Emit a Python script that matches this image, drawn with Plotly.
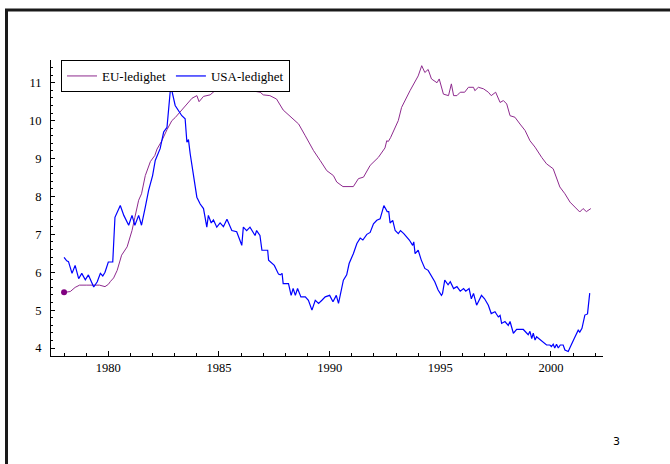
import plotly.graph_objects as go

# ---- data (decimal years, percent) ----
eu_years = [1978.0, 1978.28, 1978.5, 1978.7, 1979.0, 1979.3, 1979.6, 1979.85, 1980.0, 1980.1,
            1980.24, 1980.4, 1980.6, 1980.85, 1981.07, 1981.2, 1981.37, 1981.5, 1981.67, 1981.9,
            1982.1, 1982.2, 1982.4, 1982.65, 1982.87, 1983.02, 1983.25, 1983.4, 1983.55, 1983.78,
            1984.0, 1984.1, 1984.3, 1984.6, 1984.9, 1985.05, 1985.15, 1985.25, 1985.35, 1985.45,
            1986.45, 1986.56, 1986.86, 1987.0, 1987.3, 1987.6, 1987.9, 1988.15, 1988.6, 1988.9,
            1989.27, 1989.57, 1989.87, 1990.17, 1990.32, 1990.6, 1991.07, 1991.3, 1991.53, 1991.83,
            1992.2, 1992.5, 1992.58, 1992.65, 1992.75, 1993.1, 1993.25, 1993.63, 1993.86, 1994.0,
            1994.16, 1994.3, 1994.45, 1994.6, 1994.85, 1994.95, 1995.14, 1995.37, 1995.5, 1995.6,
            1995.75, 1995.9, 1996.1, 1996.27, 1996.5, 1996.56, 1996.72, 1996.95, 1997.17, 1997.3,
            1997.5, 1997.7, 1997.85, 1998.0, 1998.15, 1998.37, 1998.6, 1998.83, 1999.05, 1999.28,
            1999.58, 1999.8, 2000.1, 2000.26, 2000.4, 2000.63, 2000.86, 2001.08, 2001.3, 2001.45,
            2001.6, 2001.8]
eu_values = [5.47, 5.49, 5.6, 5.66, 5.66, 5.66, 5.66, 5.62, 5.68, 5.76,
             5.85, 6.05, 6.45, 6.67, 7.1, 7.45, 7.9, 8.07, 8.55, 8.92,
             9.08, 9.25, 9.45, 9.76, 10.0, 10.08, 10.24, 10.35, 10.46, 10.59,
             10.66, 10.5, 10.64, 10.68, 10.83, 10.9, 10.8, 10.88, 10.8, 10.88,
             10.88, 10.78, 10.75, 10.68, 10.66, 10.57, 10.28, 10.15, 9.91, 9.6,
             9.21, 8.95, 8.68, 8.55, 8.38, 8.26, 8.26, 8.47, 8.51, 8.82,
             9.03, 9.28, 9.47, 9.45, 9.55, 10.0, 10.35, 10.79, 11.05, 11.18,
             11.45, 11.27, 11.35, 11.1, 11.0, 11.1, 10.7, 10.66, 10.97, 10.66,
             10.66, 10.75, 10.75, 10.88, 10.88, 10.79, 10.88, 10.84, 10.75, 10.66,
             10.75, 10.48, 10.53, 10.44, 10.13, 10.09, 9.91, 9.74, 9.47, 9.3,
             9.03, 8.86, 8.73, 8.47, 8.25, 8.07, 7.85, 7.72, 7.59, 7.68,
             7.6, 7.68]

usa_years = [1978.0, 1978.12, 1978.2, 1978.36, 1978.5, 1978.66, 1978.8, 1978.96, 1979.1, 1979.2,
             1979.34, 1979.5, 1979.64, 1979.75, 1979.85, 1980.0, 1980.2, 1980.3, 1980.54, 1980.7,
             1980.92, 1981.07, 1981.2, 1981.37, 1981.5, 1981.67, 1981.82, 1982.0, 1982.12, 1982.34,
             1982.5, 1982.65, 1982.8, 1982.87, 1983.02, 1983.32, 1983.47, 1983.55, 1983.62, 1983.7,
             1983.85, 1984.0, 1984.15, 1984.3, 1984.45, 1984.52, 1984.65, 1984.75, 1984.9, 1985.05,
             1985.2, 1985.36, 1985.58, 1985.8, 1986.03, 1986.1, 1986.25, 1986.4, 1986.63, 1986.7,
             1986.85, 1986.94, 1987.2, 1987.24, 1987.5, 1987.69, 1987.77, 1987.85, 1987.9, 1988.14,
             1988.26, 1988.35, 1988.45, 1988.55, 1988.7, 1988.9, 1989.04, 1989.2, 1989.35, 1989.5,
             1989.65, 1989.8, 1990.0, 1990.15, 1990.3, 1990.4, 1990.62, 1990.77, 1990.88, 1991.07,
             1991.23, 1991.38, 1991.5, 1991.68, 1991.83, 1991.98, 1992.13, 1992.28, 1992.45, 1992.6,
             1992.67, 1992.73, 1992.85, 1992.96, 1993.1, 1993.2, 1993.35, 1993.6, 1993.75, 1993.8,
             1993.86, 1994.0, 1994.14, 1994.3, 1994.45, 1994.6, 1994.75, 1994.9, 1995.05, 1995.1,
             1995.2, 1995.35, 1995.45, 1995.6, 1995.75, 1995.9, 1996.05, 1996.15, 1996.3, 1996.4,
             1996.5, 1996.64, 1996.86, 1997.0, 1997.17, 1997.3, 1997.47, 1997.62, 1997.7, 1997.77,
             1997.92, 1998.07, 1998.15, 1998.3, 1998.45, 1998.75, 1998.9, 1998.97, 1999.05, 1999.13,
             1999.2, 1999.28, 1999.35, 1999.45, 1999.6, 1999.8, 1999.95, 2000.02, 2000.1, 2000.17,
             2000.25, 2000.33, 2000.42, 2000.55, 2000.63, 2000.78, 2000.85, 2000.92, 2001.05, 2001.23,
             2001.3, 2001.4, 2001.53, 2001.65, 2001.75]
usa_values = [6.39, 6.3, 6.28, 5.97, 6.18, 5.83, 5.97, 5.8, 5.93, 5.8,
              5.61, 5.75, 5.97, 5.9, 6.0, 6.27, 6.27, 7.45, 7.76, 7.5,
              7.24, 7.5, 7.24, 7.5, 7.24, 7.72, 8.16, 8.55, 8.95, 9.26,
              9.7, 9.82, 10.79, 10.79, 10.4, 10.13, 10.05, 9.43, 9.5, 9.12,
              8.51, 7.98, 7.8, 7.68, 7.19, 7.5, 7.3, 7.38, 7.19, 7.3,
              7.2, 7.4, 7.1, 7.07, 6.71, 7.19, 7.1, 7.19, 6.97, 7.1,
              6.97, 6.58, 6.58, 6.32, 6.18, 5.95, 5.93, 5.97, 5.7, 5.7,
              5.39, 5.57, 5.39, 5.57, 5.35, 5.35, 5.26, 5.0, 5.26, 5.18,
              5.26, 5.35, 5.39, 5.22, 5.39, 5.18, 5.79, 5.93, 6.23, 6.49,
              6.76, 6.9, 6.85, 7.0, 7.05, 7.28, 7.37, 7.41, 7.76, 7.6,
              7.6, 7.3, 7.37, 7.1, 7.02, 7.1, 7.02, 6.85, 6.71, 6.8,
              6.49, 6.58, 6.32, 6.1, 6.05, 5.88, 5.75, 5.53, 5.39, 5.44,
              5.79, 5.67, 5.75, 5.57, 5.62, 5.5, 5.57, 5.5, 5.57, 5.3,
              5.44, 5.13, 5.39, 5.3, 5.13, 4.91, 4.96, 4.82, 4.86, 4.65,
              4.7, 4.6, 4.7, 4.39, 4.49, 4.49, 4.39, 4.35, 4.44, 4.25,
              4.39, 4.21, 4.3, 4.25, 4.17, 4.08, 4.08, 4.04, 4.1, 4.0,
              4.1, 4.0, 4.08, 4.08, 3.95, 3.91, 4.0, 4.1, 4.25, 4.47,
              4.42, 4.52, 4.87, 4.9, 5.45]

series_names = ["EU-ledighet", "USA-ledighet"]
page_number = "3"

EU_COLOR = "#8e2a8e"
USA_COLOR = "#0000ff"
SERIF = "Liberation Serif, Times New Roman, serif"

fig = go.Figure()
fig.add_trace(go.Scatter(x=eu_years, y=eu_values, mode="lines", name=series_names[0],
                         line=dict(color=EU_COLOR, width=1)))
fig.add_trace(go.Scatter(x=usa_years, y=usa_values, mode="lines", name=series_names[1],
                         line=dict(color=USA_COLOR, width=1.2)))
fig.add_trace(go.Scatter(x=[eu_years[0]], y=[eu_values[0]], mode="markers", showlegend=False,
                         marker=dict(color="#800080", size=6)))

W, H = 670, 464
L, R, T, B = 51, 603, 60, 356
pw, ph = R - L, B - T

def px(x):
    return (x - L) / pw

def py(y):
    return (B - y) / ph

axis_font = dict(family=SERIF, size=12.5, color="black")

fig.update_layout(
    width=W, height=H,
    margin=dict(l=L, r=W - R, t=T, b=H - B),
    paper_bgcolor="white", plot_bgcolor="white",
    font=dict(family=SERIF, size=12, color="black"),
    showlegend=True,
    legend=dict(orientation="h", x=px(61), y=py(60), xanchor="left", yanchor="top",
                bordercolor="black", borderwidth=1, bgcolor="white",
                font=dict(family=SERIF, size=13, color="black"),
                itemwidth=30, tracegroupgap=0),
    xaxis=dict(range=[1977.41, 2002.35], showgrid=False, zeroline=False,
               showline=True, linecolor="black", linewidth=1,
               tick0=1980, dtick=5, ticks="inside", ticklen=5, tickcolor="black",
               tickfont=axis_font,
               minor=dict(dtick=1, tick0=1980, ticks="inside", ticklen=3, tickcolor="black")),
    yaxis=dict(range=[3.79, 11.6], showgrid=False, zeroline=False,
               showline=True, linecolor="black", linewidth=1,
               tick0=4, dtick=1, ticks="inside", ticklen=4, tickcolor="black",
               tickfont=axis_font, ticklabelstandoff=6,
               minor=dict(dtick=0.2, tick0=4, ticks="inside", ticklen=2, tickcolor="black")),
    shapes=[
        dict(type="line", xref="paper", yref="paper", x0=px(5), x1=px(670), y0=py(10), y1=py(10),
             line=dict(color="#1a1a1a", width=3)),
        dict(type="line", xref="paper", yref="paper", x0=px(6.5), x1=px(6.5), y0=py(9), y1=py(464),
             line=dict(color="#1a1a1a", width=3)),
    ],
    annotations=[
        dict(text=page_number, xref="paper", yref="paper", x=px(617), y=py(441),
             xanchor="center", yanchor="middle", showarrow=False,
             font=dict(family="DejaVu Sans", size=11, color="black")),
    ],
)

fig.write_html("out.html", config={"displayModeBar": False},
               post_script="document.body.style.margin='0';document.body.style.overflow='hidden';")
